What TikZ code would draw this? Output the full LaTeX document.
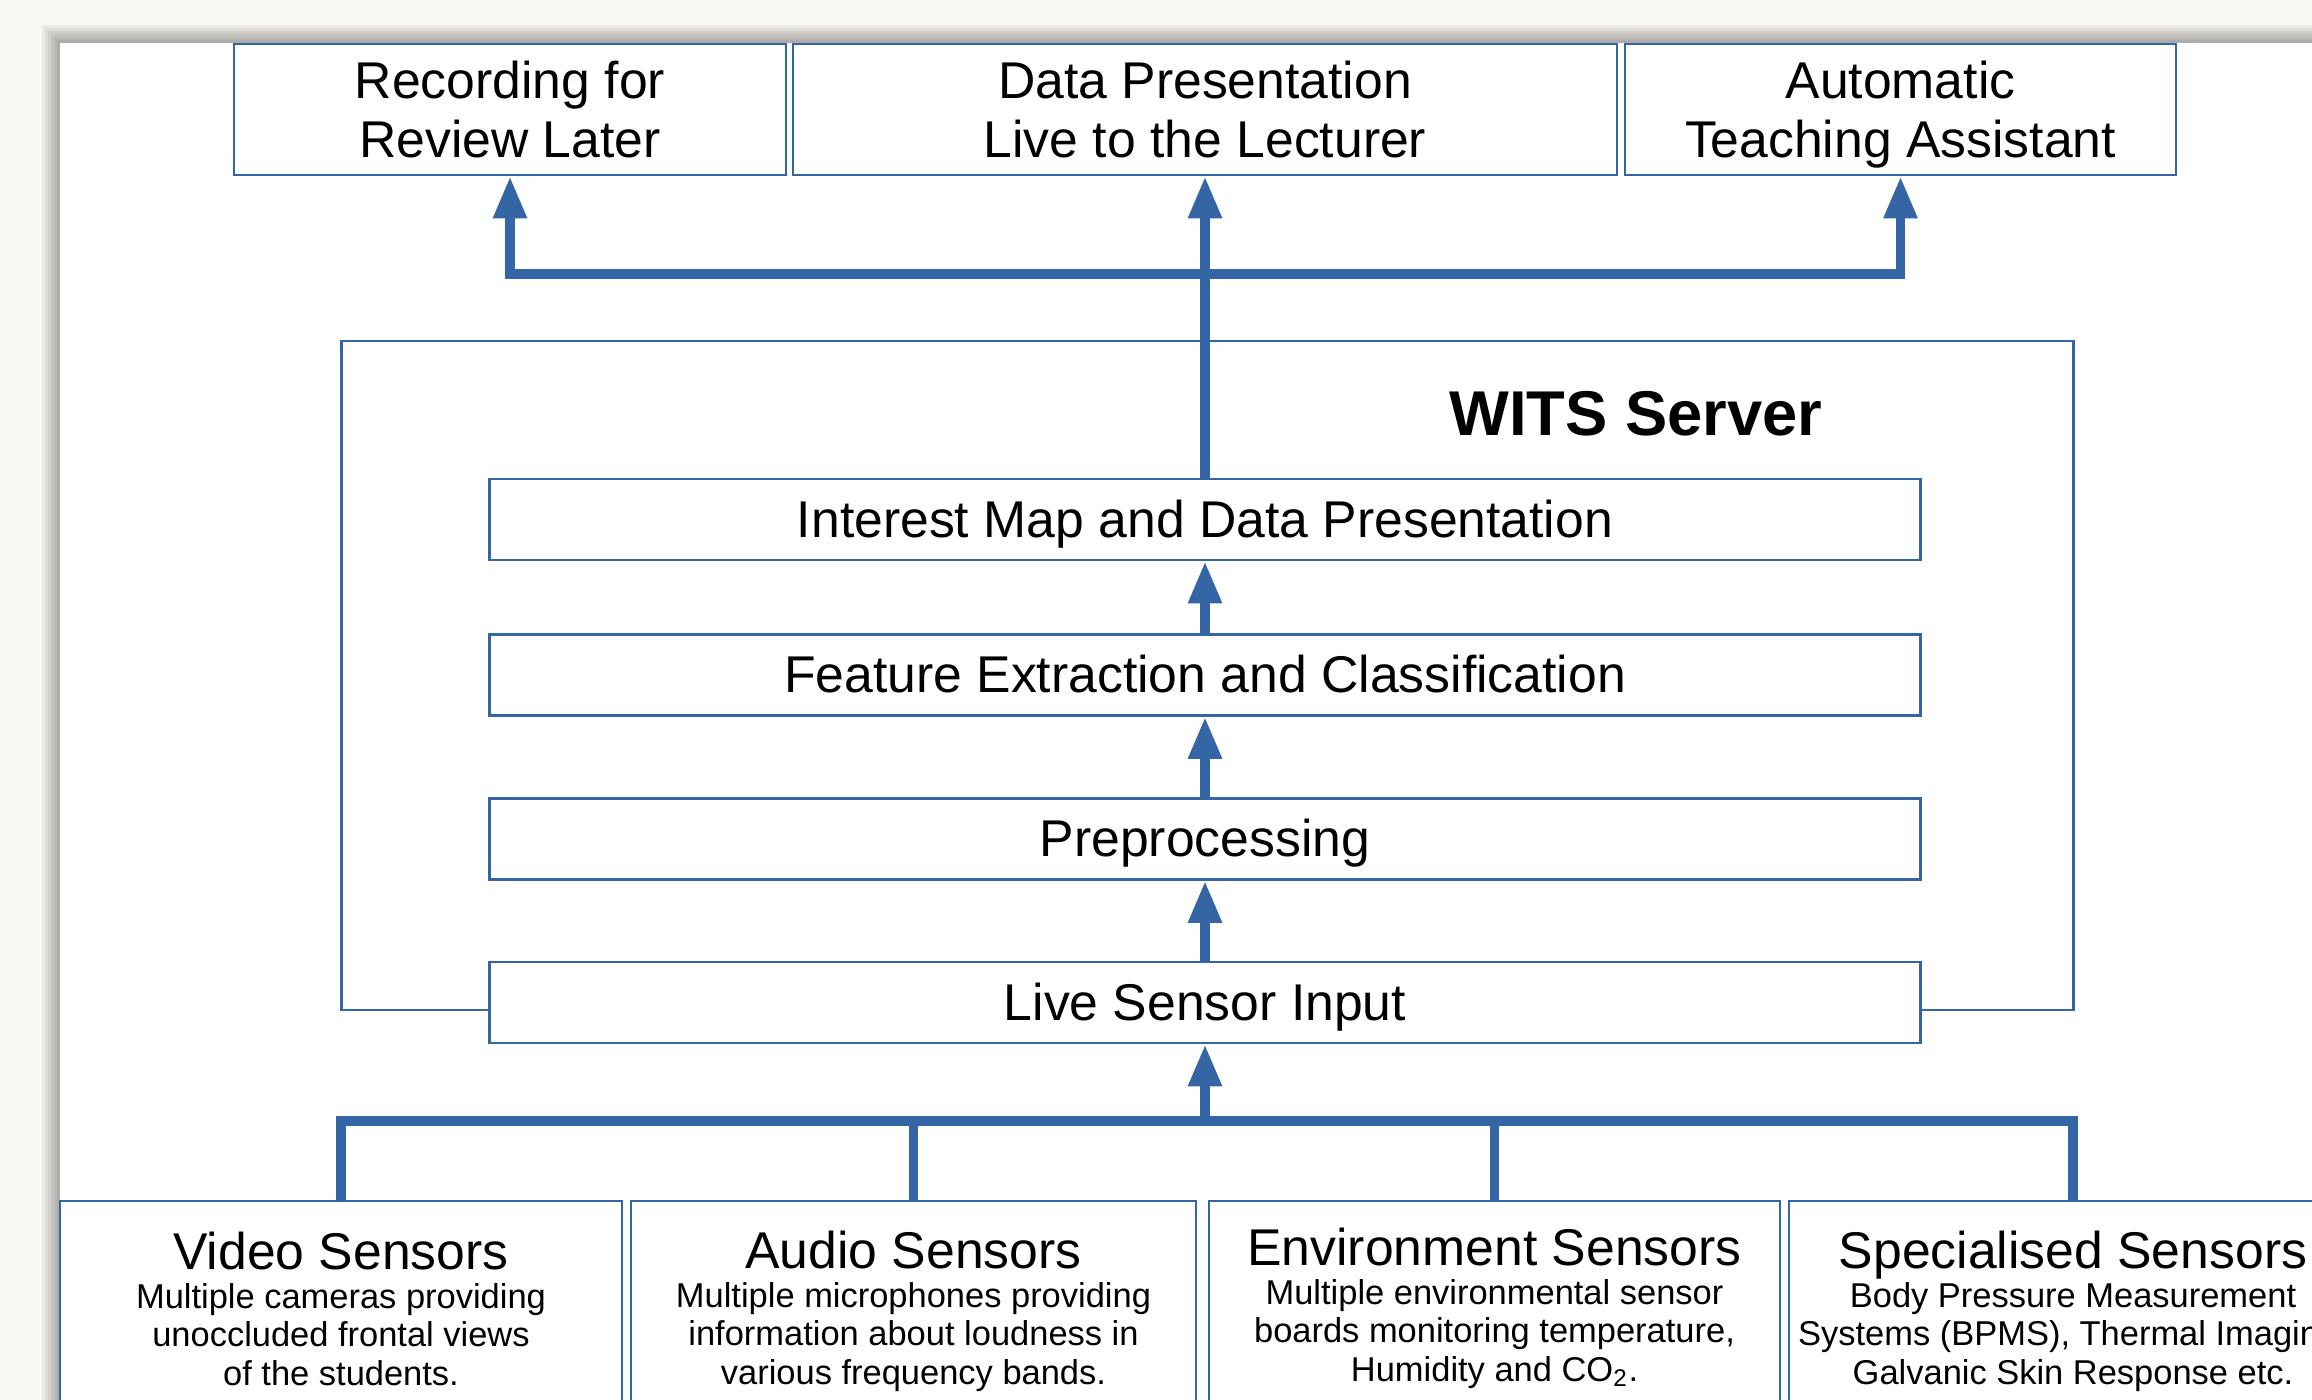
\documentclass[tikz,border=0pt]{standalone}
\usepackage{fontspec}
\setmainfont{Liberation Sans}
\usetikzlibrary{arrows.meta}
\definecolor{witsblue}{HTML}{3465A4}
\definecolor{paper}{HTML}{F8F7F3}
\newcommand\boxfont{\fontsize{14.7pt}{16.8pt}\selectfont}
\newcommand\notefont{\fontsize{9.8pt}{10.9pt}\selectfont}
\newcommand\headfont{\fontsize{18pt}{21pt}\selectfont\bfseries}
\tikzset{
  stage/.style={draw=witsblue, line width=0.7pt, fill=white, inner sep=0pt, align=center, font=\boxfont},
  layer/.style={stage, minimum width=14.3cm, minimum height=0.81cm, text height=10pt, text depth=0pt},
  sensorbox/.style={stage, minimum height=3cm, anchor=north},
  flow/.style={draw=witsblue, line width=2.8pt, -{Triangle[width=9pt,length=12pt]}},
  bus/.style={draw=witsblue, line width=2.8pt},
}
\begin{document}
\begin{tikzpicture}[x=0.01cm,y=-0.01cm]
  \useasboundingbox (0,0) rectangle (2312,1400);
  \clip (0,0) rectangle (2312,1400);
  \fill[paper] (0,0) rectangle (2312,1400);
  \foreach \s in {1,...,6} {
    \fill[black,opacity=0.055] (60-3*\s,43-3*\s) rectangle (2312,1400);
  }
  \fill[white] (60,43) rectangle (2312,1400);

  \node[stage, minimum width=5.52cm, minimum height=1.31cm] (rec) at (510,109.5) {Recording for\\Review Later};
  \node[stage, minimum width=8.24cm, minimum height=1.31cm] (pres) at (1205,109.5) {Data Presentation\\Live to the Lecturer};
  \node[stage, minimum width=5.51cm, minimum height=1.31cm] (ta) at (1900.5,109.5) {Automatic\\\smash{Teaching Assistant}};

  \node[draw=witsblue, line width=0.7pt, inner sep=0pt, minimum width=17.31cm, minimum height=6.69cm] (server) at (1207.5,675.5) {};
  \node[font=\headfont, anchor=base] (servername) at (1636,435) {WITS Server};

  \node[layer] (interest) at (1205,519.5) {Interest Map and Data Presentation};
  \node[layer] (feature) at (1205,675) {Feature Extraction and Classification};
  \node[layer] (prep) at (1205,839) {Preprocessing};
  \node[layer] (live) at (1205,1002.5) {Live Sensor Input};

  \coordinate (topbus) at (1205,274);
  \coordinate (lowbus) at (1205,1121);

  \draw[flow] (interest.north) -- (pres.south);
  \draw[flow] (topbus) -| (rec.south);
  \draw[flow] (topbus) -| (ta.south);
  \draw[flow] (feature.north) -- (interest.south);
  \draw[flow] (prep.north) -- (feature.south);
  \draw[flow] (live.north) -- (prep.south);
  \draw[flow] (lowbus) -- (live.south);

  \foreach \x/\w/\dy/\n/\head/\note in {
      341/5.62/-1/video/Video Sensors/{Multiple cameras providing\\unoccluded frontal views\\of the students.},
      913.5/5.65/-2/audio/Audio Sensors/{Multiple microphones providing\\information about loudness in\\various frequency bands.},
      1494.5/5.71/-5/env/Environment Sensors/{Multiple environmental sensor\\boards monitoring temperature,\\Humidity and CO\textsubscript{2}.},
      2073/5.68/-2/spec/Specialised Sensors/{Body Pressure Measurement\\Systems (BPMS), Thermal Imaging,\\Galvanic Skin Response etc.}} {
    \node[sensorbox, minimum width=\w cm] (\n) at (\x,1200) {};
    \node[font=\boxfont, anchor=base] (\n head) at (\x,1270+\dy) {\head};
    \node[font=\notefont, align=center, anchor=base] (\n note) at (\x,1386+\dy) {\note};
    \draw[bus] (\n.north) |- (lowbus);
  }
\end{tikzpicture}
\end{document}
